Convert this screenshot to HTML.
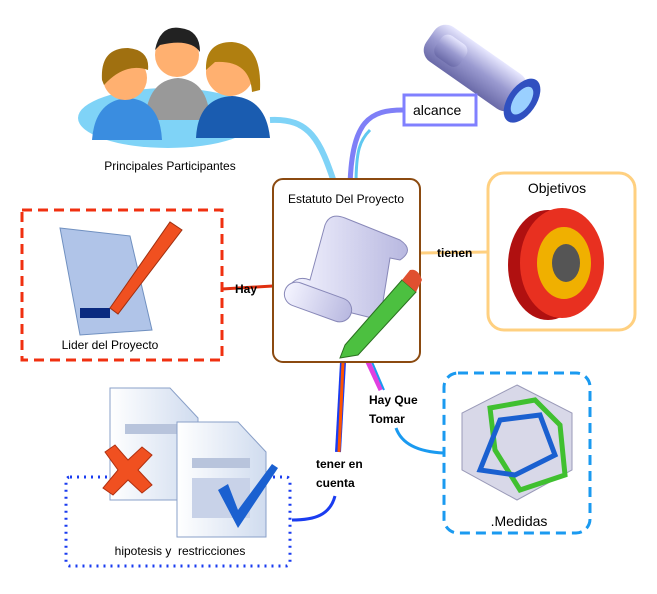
<!DOCTYPE html>
<html><head><meta charset="utf-8"><style>
body{margin:0;background:#fff;width:657px;height:594px;overflow:hidden}
svg{display:block}
text{font-family:"Liberation Sans",sans-serif}
.b{font-weight:bold;font-size:12px;fill:#000}
</style></head><body>
<svg width="657" height="594" viewBox="0 0 657 594" xmlns="http://www.w3.org/2000/svg">
<defs>
<linearGradient id="scr" x1="0" x2="1"><stop offset="0" stop-color="#f4f4ff"/><stop offset="1" stop-color="#b8b8e0"/></linearGradient>
<linearGradient id="tel" x1="0" y1="0" x2="0" y2="1"><stop offset="0" stop-color="#e8e8ff"/><stop offset="0.5" stop-color="#9a9ad0"/><stop offset="1" stop-color="#6a6aa8"/></linearGradient>
<linearGradient id="doc" x1="0" x2="1"><stop offset="0" stop-color="#fff"/><stop offset="1" stop-color="#d0dcef"/></linearGradient>
</defs>
<!-- connectors -->
<path d="M270,120 C310,118 320,140 335,185" stroke="#7fd3f7" stroke-width="6" fill="none"/>
<path d="M403,110 C370,110 352,120 350,185" stroke="#7f7ff7" stroke-width="5" fill="none"/>
<path d="M356,185 C356,150 360,140 370,130" stroke="#5fc8f0" stroke-width="3" fill="none"/>
<path d="M420,253 L488,252" stroke="#ffd080" stroke-width="3" fill="none"/>
<path d="M222,289 L273,286" stroke="#e03010" stroke-width="3" fill="none"/>
<path d="M343,362 L338,452" stroke="#1a3cf0" stroke-width="6" fill="none"/>
<path d="M343,362 L339,452" stroke="#ff5500" stroke-width="3" fill="none"/>
<path d="M368,362 L381,390" stroke="#e040e0" stroke-width="5" fill="none"/>
<path d="M372,362 L384,390" stroke="#1a9af0" stroke-width="2" fill="none"/>
<path d="M396,428 C402,445 420,452 444,453" stroke="#1a9af0" stroke-width="3" fill="none"/>
<path d="M335,496 C330,515 315,520 292,520" stroke="#1a3cf0" stroke-width="3" fill="none"/>
<!-- people -->
<ellipse cx="168" cy="118" rx="90" ry="30" fill="#7fd3f7"/>
<path d="M145,120 Q148,80 178,78 Q208,80 210,120Z" fill="#999"/>
<circle cx="177" cy="55" r="22" fill="#ffb070"/><path d="M155,50 Q160,25 180,28 Q200,30 200,52 Q190,38 160,45Z" fill="#222"/>
<path d="M92,140 Q95,100 128,98 Q160,100 162,140Z" fill="#3a8de0"/>
<circle cx="125" cy="78" r="22" fill="#ffb070"/><path d="M102,80 Q100,48 128,48 Q150,50 148,70 Q125,62 104,85Z" fill="#a07010"/>
<path d="M196,138 Q198,98 232,96 Q266,98 270,138Z" fill="#1a5cb0"/>
<circle cx="230" cy="72" r="24" fill="#ffb070"/><path d="M206,70 Q205,42 232,42 Q262,44 260,90 L252,92 Q250,60 215,62Z" fill="#b07f10"/>
<text x="170" y="170" font-size="12" text-anchor="middle">Principales Participantes</text>
<!-- telescope -->
<g transform="rotate(35 480 70)">
<rect x="420" y="50" width="110" height="42" rx="14" fill="url(#tel)"/>
<rect x="430" y="58" width="30" height="26" rx="8" fill="url(#tel)"/>
<ellipse cx="532" cy="71" rx="14" ry="25" fill="#3050c0"/>
<ellipse cx="532" cy="71" rx="8" ry="16" fill="#9ad0ff"/>
</g>
<rect x="404" y="95" width="72" height="30" fill="#fff" stroke="#8080ff" stroke-width="3"/>
<text x="413" y="115" font-size="14">alcance</text>
<!-- central -->
<rect x="273" y="179" width="147" height="183" rx="10" fill="#fff" stroke="#8b4a10" stroke-width="2"/>
<text x="346" y="203" font-size="12" text-anchor="middle">Estatuto Del Proyecto</text>
<path d="M325,225 Q330,212 345,218 L400,240 Q415,250 400,260 L390,258 L380,320 L300,300 Q285,295 290,285 Q298,275 310,280Z" fill="url(#scr)" stroke="#8888b8"/>
<rect x="283" y="290" width="70" height="24" rx="12" transform="rotate(20 318 302)" fill="url(#scr)" stroke="#8888b8"/>
<path d="M345,345 L402,280 L416,292 L358,355 L340,358Z" fill="#4cc040" stroke="#2a7020"/>
<path d="M402,280 L410,270 Q418,268 422,280 L416,292Z" fill="#e05030"/>
<!-- objetivos -->
<rect x="488" y="173" width="147" height="157" rx="16" fill="#fff" stroke="#ffd080" stroke-width="3"/>
<text x="557" y="193" font-size="14" text-anchor="middle">Objetivos</text>
<ellipse cx="548" cy="265" rx="40" ry="55" fill="#b01010"/>
<ellipse cx="562" cy="263" rx="42" ry="55" fill="#e83020"/>
<ellipse cx="564" cy="263" rx="27" ry="36" fill="#f0b000"/>
<ellipse cx="566" cy="263" rx="14" ry="19" fill="#555"/>
<text x="437" y="257" class="b">tienen</text>
<!-- lider -->
<rect x="22" y="210" width="200" height="150" fill="#fff" stroke="#f03010" stroke-width="3" stroke-dasharray="10,6"/>
<path d="M60,228 L130,236 L152,330 L80,335Z" fill="#b0c4e8" stroke="#7090c0"/>
<rect x="80" y="308" width="30" height="10" fill="#0a2a80"/>
<path d="M110,308 L170,222 L182,230 L118,314Z" fill="#f05020" stroke="#a03010"/>
<text x="110" y="349" font-size="12" text-anchor="middle">Lider del Proyecto</text>
<text x="235" y="293" class="b">Hay</text>
<!-- medidas -->
<rect x="444" y="373" width="146" height="160" rx="14" fill="#fff" stroke="#1a9af0" stroke-width="3" stroke-dasharray="10,6"/>
<polygon points="517,385 572,413 572,470 517,500 462,470 462,413" fill="#d8d8e8" stroke="#9a9ab8"/>
<polygon points="490,408 535,400 560,425 565,475 520,490 495,450" fill="none" stroke="#40c030" stroke-width="5"/>
<polygon points="500,420 540,415 555,455 515,475 480,470" fill="none" stroke="#1a60d0" stroke-width="5"/>
<text x="519" y="526" font-size="14" text-anchor="middle">.Medidas</text>
<text x="369" y="404" class="b">Hay Que</text>
<text x="369" y="423" class="b">Tomar</text>
<!-- hipotesis -->
<rect x="66" y="477" width="224" height="89" rx="4" fill="none" stroke="#1a3cf0" stroke-width="3" stroke-dasharray="2,5"/>
<path d="M110,388 L170,388 L198,418 L198,500 L110,500Z" fill="url(#doc)" stroke="#8aa0c8"/>
<rect x="125" y="424" width="55" height="10" fill="#b8c4dc"/>
<path d="M105,452 L115,445 L128,460 L142,447 L152,455 L138,470 L152,485 L142,493 L128,480 L113,495 L103,488 L118,470Z" fill="#f05020" stroke="#b03010"/>
<path d="M177,422 L238,422 L266,452 L266,537 L177,537Z" fill="url(#doc)" stroke="#8aa0c8"/>
<rect x="192" y="458" width="58" height="10" fill="#b8c4dc"/>
<rect x="192" y="478" width="58" height="40" fill="#c8d2e8"/>
<path d="M218,490 L238,528 L278,468 L272,464 L238,510 L228,484Z" fill="#1a60d0"/>
<text x="180" y="555" font-size="12" text-anchor="middle">hipotesis y &#160;restricciones</text>
<text x="316" y="468" class="b">tener en</text>
<text x="316" y="487" class="b">cuenta</text>
</svg>
</body></html>
